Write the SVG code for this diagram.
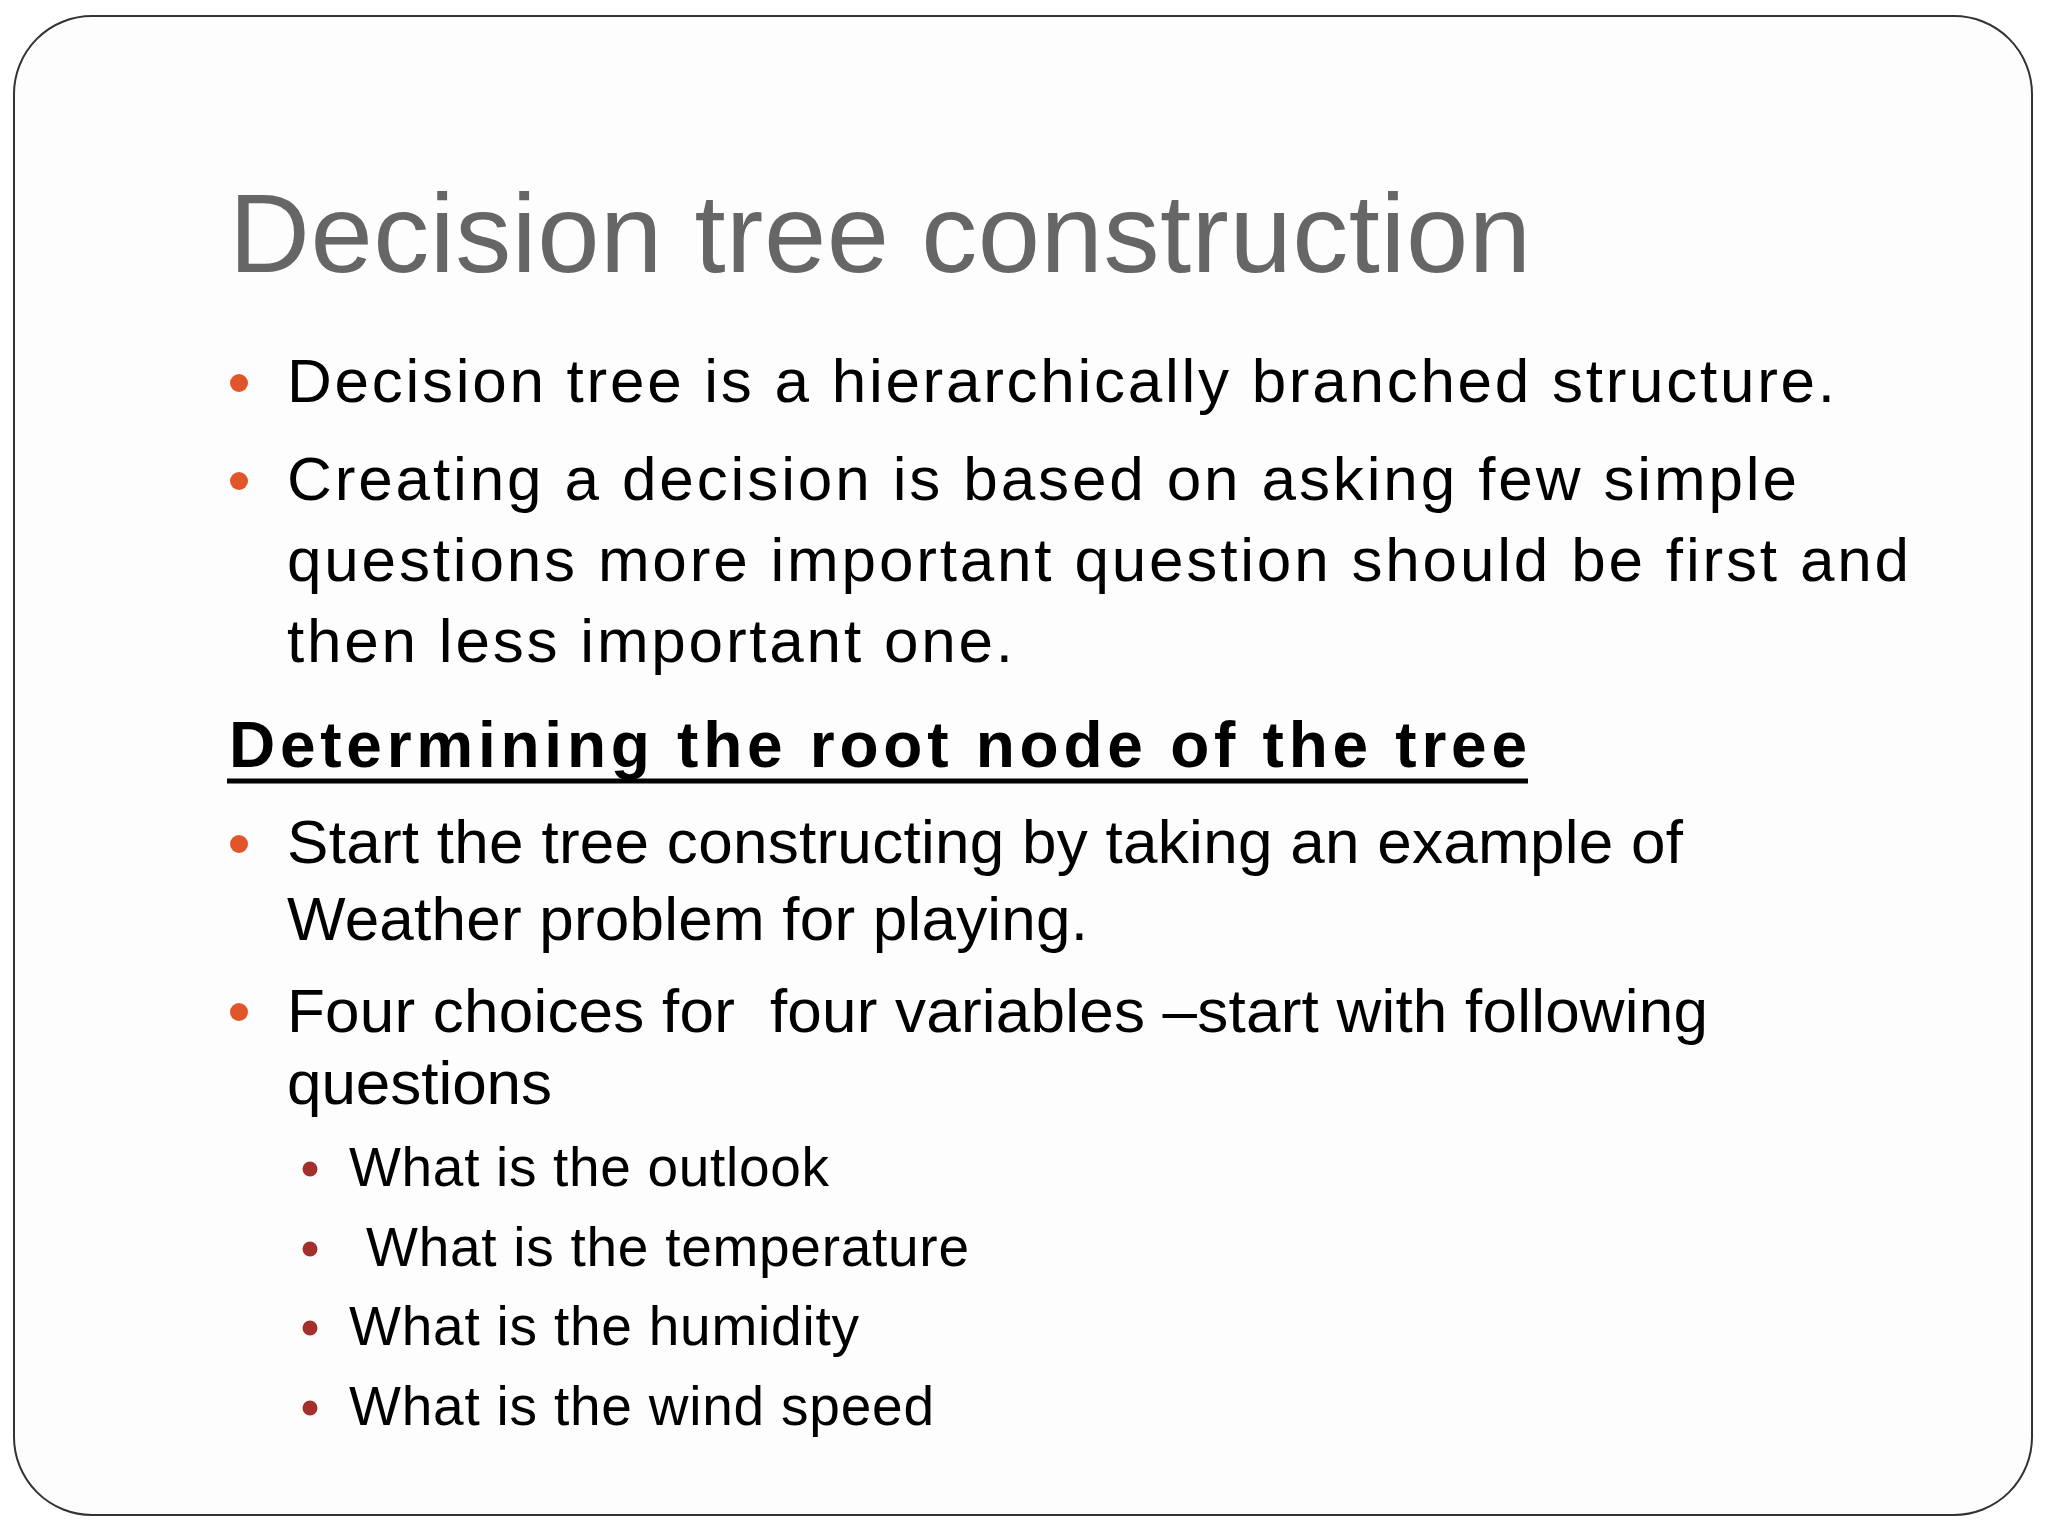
<svg xmlns="http://www.w3.org/2000/svg" width="2048" height="1536" viewBox="0 0 2048 1536">
<style>
text{font-family:"Liberation Sans",Arial,sans-serif;fill:#000}
.b{font-size:62px}
.s{font-size:55px}
.d1{fill:#E0562A}
.d2{fill:#A3302B}
</style>
<rect width="2048" height="1536" fill="#fff"/>
<rect x="14" y="16" width="2018" height="1499" rx="78" fill="#fdfdfd" stroke="#333" stroke-width="2"/>
<g id="title"><text x="229" y="272" font-size="112" style="fill:#666" textLength="1302">Decision tree construction</text></g>
<g id="bullets">
<circle class="d1" cx="239" cy="383" r="9"/>
<text class="b" x="287" y="402" textLength="1548">Decision tree is a hierarchically branched structure.</text>
<circle class="d1" cx="239" cy="481" r="9"/>
<text class="b" x="287" y="500" textLength="1510">Creating a decision is based on asking few simple</text>
<text class="b" x="287" y="581" textLength="1622">questions more important question should be first and</text>
<text class="b" x="287" y="662" textLength="726">then less important one.</text>
<text x="229" y="767" font-size="64" font-weight="bold" textLength="1298">Determining the root node of the tree</text>
<line x1="227" y1="781" x2="1528" y2="781" stroke="#000" stroke-width="5"/>
<circle class="d1" cx="239" cy="844" r="9"/>
<text class="b" x="287" y="863" textLength="1396">Start the tree constructing by taking an example of</text>
<text class="b" x="287" y="940" textLength="801">Weather problem for playing.</text>
<circle class="d1" cx="239" cy="1012" r="9"/>
<text class="b" x="287" y="1032" textLength="1421" xml:space="preserve">Four choices for  four variables –start with following</text>
<text class="b" x="287" y="1104" textLength="265">questions</text>
<circle class="d2" cx="310" cy="1169" r="7.5"/>
<text class="s" x="349" y="1186" textLength="480">What is the outlook</text>
<circle class="d2" cx="310" cy="1249" r="7.5"/>
<text class="s" x="366" y="1266" textLength="603">What is the temperature</text>
<circle class="d2" cx="310" cy="1328" r="7.5"/>
<text class="s" x="349" y="1345" textLength="510">What is the humidity</text>
<circle class="d2" cx="310" cy="1408" r="7.5"/>
<text class="s" x="349" y="1425" textLength="585">What is the wind speed</text>
</g>
</svg>
